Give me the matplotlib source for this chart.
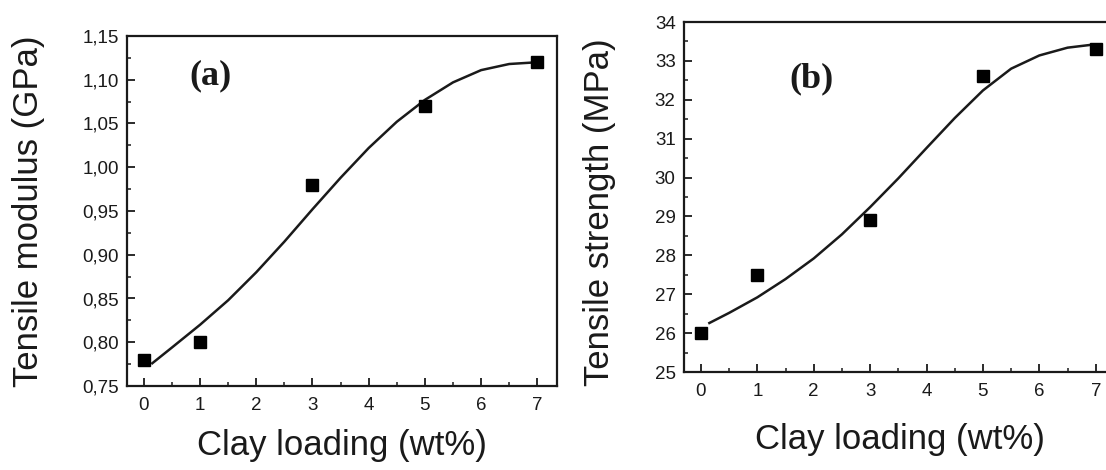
import matplotlib
matplotlib.use("Agg")
import matplotlib.pyplot as plt
from matplotlib.ticker import MultipleLocator

# measured points
clay = [0, 1, 3, 5, 7]
modulus = [0.78, 0.80, 0.98, 1.07, 1.12]
strength = [26.0, 27.5, 28.9, 32.6, 33.3]

# fitted curves
fit_x_a = [0.15, 0.5, 1.0, 1.5, 2.0, 2.5, 3.0, 3.5, 4.0, 4.5, 5.0, 5.5, 6.0, 6.5, 7.0]
fit_a = [0.776, 0.794, 0.820, 0.848, 0.880, 0.915, 0.952, 0.988, 1.022, 1.052, 1.077, 1.097, 1.111, 1.118, 1.120]
fit_x_b = [0.15, 0.5, 1.0, 1.5, 2.0, 2.5, 3.0, 3.5, 4.0, 4.5, 5.0, 5.5, 6.0, 6.5, 6.9]
fit_b = [26.26, 26.52, 26.92, 27.39, 27.92, 28.54, 29.24, 29.98, 30.76, 31.53, 32.24, 32.80, 33.14, 33.34, 33.41]

yticks_a = [0.75, 0.80, 0.85, 0.90, 0.95, 1.00, 1.05, 1.10, 1.15]
yticklabels_a = ["0,75", "0,80", "0,85", "0,90", "0,95", "1,00", "1,05", "1,10", "1,15"]
yticks_b = [25, 26, 27, 28, 29, 30, 31, 32, 33, 34]
xticks = [0, 1, 2, 3, 4, 5, 6, 7]

ink = "#1a1a1a"
sans = ["Liberation Sans", "DejaVu Sans"]
serif = ["Liberation Serif", "DejaVu Serif"]

fig = plt.figure(figsize=(11.06, 4.70), dpi=100)
W, H = 1106, 470
ax_a = fig.add_axes([127 / W, (H - 386) / H, 430 / W, 350 / H])
ax_b = fig.add_axes([684 / W, (H - 372) / H, 431.5 / W, 350 / H])


def style(ax, ylim, yminor, ylabel, ylabel_x, xlabel_y):
    ax.set_xlim(-0.3, 7.35)
    ax.set_ylim(*ylim)
    ax.set_xticks(xticks)
    ax.xaxis.set_minor_locator(MultipleLocator(0.5))
    ax.yaxis.set_minor_locator(MultipleLocator(yminor))
    ax.tick_params(which="both", direction="in", color=ink, top=False, right=False)
    ax.tick_params(which="major", length=6, width=1.3)
    ax.tick_params(which="minor", length=3, width=1.1)
    ax.tick_params(axis="y", pad=6)
    ax.tick_params(axis="x", pad=8)
    for lab in ax.get_xticklabels() + ax.get_yticklabels():
        lab.set_family(sans)
        lab.set_fontsize(13.5)
        lab.set_color(ink)
    for sp in ax.spines.values():
        sp.set_linewidth(1.6)
        sp.set_color(ink)
    ax.set_xlabel("Clay loading (wt%)", family=sans, fontsize=25, color=ink)
    ax.xaxis.set_label_coords(0.5, xlabel_y)
    ax.xaxis.label.set_va("center")
    ax.set_ylabel(ylabel, family=sans, fontsize=25, color=ink)
    ax.yaxis.set_label_coords(ylabel_x, 0.5)
    ax.yaxis.label.set_va("center")


# (a) modulus
ax_a.plot(fit_x_a, fit_a, color=ink, lw=1.8, zorder=2)
ax_a.plot(clay, modulus, "s", color="black", ms=8.5, zorder=3)
ax_a.set_yticks(yticks_a)
ax_a.set_yticklabels(yticklabels_a)
style(ax_a, (0.75, 1.15), 0.025, "Tensile modulus (GPa)", -0.23, -0.169)
ax_a.text(0.195, 0.885, "(a)", transform=ax_a.transAxes, ha="center", va="center",
          family=serif, fontweight="bold", fontsize=26, color=ink)

# (b) strength
ax_b.plot(fit_x_b, fit_b, color=ink, lw=1.8, zorder=2)
ax_b.plot(clay, strength, "s", color="black", ms=8.5, zorder=3)
ax_b.set_yticks(yticks_b)
style(ax_b, (25, 34), 0.5, "Tensile strength (MPa)", -0.195, -0.194)
ax_b.yaxis.set_label_coords(-0.195, 0.457)
ax_b.text(0.296, 0.837, "(b)", transform=ax_b.transAxes, ha="center", va="center",
          family=serif, fontweight="bold", fontsize=26, color=ink)

fig.savefig("out.png", dpi=100)
